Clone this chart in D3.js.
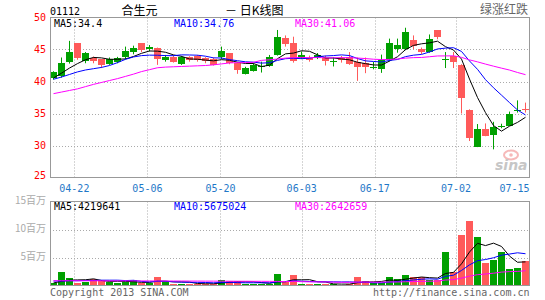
<!DOCTYPE html>
<html><head><meta charset="utf-8">
<script src="https://cdn.jsdelivr.net/npm/d3@7/dist/d3.min.js"></script>
<style>body{margin:0;background:#fff}svg{display:block}</style>
</head><body>
<svg id="c" width="545" height="300"></svg>
<script>
// ---- data ----
const dates = ["04-17","04-18","04-19","04-22","04-23","04-24","04-25","04-26","04-29","04-30",
  "05-02","05-03","05-06","05-07","05-08","05-09","05-10","05-13","05-14","05-15",
  "05-16","05-20","05-21","05-22","05-23","05-24","05-27","05-28","05-29","05-30",
  "05-31","06-03","06-04","06-05","06-06","06-07","06-10","06-11","06-13","06-14",
  "06-17","06-18","06-19","06-20","06-21","06-24","06-25","06-26","06-27","06-28",
  "07-02","07-03","07-04","07-05","07-08","07-09","07-10","07-11","07-12","07-15"];
const tickDates = ["04-22","05-06","05-20","06-03","06-17","07-02","07-15"];
const openP  = [40.5,40.8,43.1,46.0,43.1,43.75,43.5,42.75,43.0,43.75,44.6,46.0,45.05,45.2,43.4,43.9,42.75,43.8,44.0,43.65,
  43.5,43.75,44.4,42.85,41.2,41.65,42.3,42.5,44.15,46.75,46.0,43.75,43.75,43.75,43.75,43.2,43.65,43.9,43.1,42.85,
  42.2,41.9,43.3,45.0,45.05,46.45,45.05,44.65,48.0,43.4,43.95,42.55,35.5,29.8,32.65,31.6,33.0,33.2,35.45,35.65];
const highP  = [41.6,43.75,46.35,46.0,44.6,43.9,43.5,43.75,43.85,45.45,45.6,46.0,45.7,45.3,44.15,44.15,44.0,43.95,44.15,43.8,
  43.75,45.45,44.45,42.9,42.3,42.85,43.1,44.15,48.05,47.2,47.0,44.7,44.05,44.45,44.05,43.75,44.0,44.6,43.75,43.75,
  43.05,44.2,46.7,46.7,48.4,47.2,45.3,47.35,48.0,44.6,44.6,42.7,35.65,33.35,33.45,33.7,33.4,35.3,37.05,36.7];
const lowP   = [40.3,40.6,42.8,43.4,42.85,42.85,42.1,42.6,42.85,43.5,44.25,44.6,44.7,42.6,43.1,42.95,42.6,43.1,43.1,42.85,
  42.5,43.5,42.7,41.2,41.1,41.55,41.4,42.3,44.05,45.45,42.95,43.5,43.1,43.5,42.5,42.35,42.95,42.6,40.1,41.3,
  41.9,41.35,43.15,44.5,44.9,45.05,44.3,44.5,46.6,42.1,42.1,35.0,30.7,29.75,31.45,29.4,32.7,33.1,35.15,35.15];
const closeP = [41.5,42.85,44.6,43.65,44.4,43.3,42.5,43.5,43.65,44.7,45.2,44.95,45.35,43.5,43.85,43.15,43.8,43.3,43.3,43.15,
  42.6,44.7,42.85,41.8,42.1,42.6,42.35,43.9,46.9,45.85,43.2,44.15,43.5,44.15,43.3,43.25,43.4,42.85,42.25,42.2,
  42.25,43.3,45.95,45.65,47.75,45.55,44.55,46.7,46.95,43.45,42.95,37.45,31.1,32.55,31.6,32.9,33.05,35.0,35.5,35.6];
// volume, millions of shares
const volume = [0.4,2.33,1.38,0.36,0.66,1.2,0.9,0.54,0.49,0.54,0.9,0.36,0.49,1.56,0.54,0.31,0.31,0.31,0.31,0.31,
  0.31,1.03,0.83,0.83,0.31,0.31,0.31,0.19,2.13,0.54,1.91,0.31,0.31,0.31,0.31,0.19,0.13,0.31,1.56,0.83,
  0.43,0.49,1.56,1.25,1.91,1.43,1.43,0.96,0.9,6.0,2.45,9.0,11.55,8.65,4.0,4.6,6.05,2.95,3.15,4.35];
// moving-average values before enough in-window history exists
const ma5Head  = [40.55,41.3,42.1,42.8];
const ma10Head = [40.35,40.7,41.1,41.5,41.8,42.0,42.2,42.5,42.95];
const ma30Head = [38.1,38.35,38.6,38.85,39.2,39.55,39.85,40.15,40.45,40.8,41.15,41.55,41.85,42.15,42.25,42.3,
  42.35,42.4,42.45,42.5,42.6,42.75,42.9,42.95,42.95,43.0,43.3,43.4,43.5];
const volMa5Head  = [0.45,0.75,0.95,1.0];
const volMa10Head = [0.8,0.8,0.85,0.85,0.9,0.9,0.95,0.95,0.95];
const volMa30Head = [0.85,0.85,0.85,0.85,0.84,0.84,0.84,0.83,0.83,0.83,0.82,0.82,0.82,0.81,0.81,0.8,0.8,0.79,
  0.79,0.78,0.78,0.77,0.77,0.76,0.76,0.75,0.75,0.74,0.73];
const priceTicks = [25,30,35,40,45,50];
const volTicks = [5,10,15];
const volTickLabels = ["5百万","10百万","15百万"];
const priceLegend = ["MA5:34.4","MA10:34.76","MA30:41.06"];
const volLegend = ["MA5:4219641","MA10:5675024","MA30:2642659"];
const maColors = ["#000000","#0000ff","#ff00ff"];

// ---- drawing ----
const svg = d3.select("#c");
const L = 50, R = 529, PT = 17.5, PB = 177.5, VT = 201.5, VB = 285.5;
const UP = "#00a000", DOWN = "#ff5a5a";
const MONO = "'DejaVu Sans Mono', monospace";
const CJK = "'Noto Sans CJK SC', sans-serif";

const idx = d3.range(dates.length);
const xb = d3.scaleBand().domain(idx).range([L, R]).paddingInner(0.125);
const xp = d3.scalePoint().domain(dates).range([L, R]);
const y = d3.scaleLinear().domain([25, 50]).range([PB, PT]);
const yv = d3.scaleLinear().domain([0, 15]).range([VB, VT]);
const bx = i => Math.round(xb(i));
const cx = i => bx(i) + 3.5;
const isUp = i => closeP[i] >= openP[i];

function movingAvg(vals, n, head) {
  return vals.map((v, i) => i < n - 1 ? head[i] : d3.mean(vals.slice(i - n + 1, i + 1)));
}

// grids
const g = svg.append("g");
const gridX = tickDates.filter(d => xp(d) < R - 2).map(d => Math.round(xp(d)) + 0.5);
[[PT, PB], [VT, VB]].forEach(([t, b]) => {
  g.selectAll(null).data(gridX).join("line")
    .attr("x1", d => d).attr("x2", d => d).attr("y1", t).attr("y2", b)
    .attr("stroke", "#aaa").attr("stroke-dasharray", "1,2");
});
g.selectAll(null).data(priceTicks.filter(t => t > 25 && t < 50)).join("line")
  .attr("x1", L).attr("x2", R).attr("y1", d => Math.round(y(d)) + 0.5).attr("y2", d => Math.round(y(d)) + 0.5)
  .attr("stroke", "#aaa").attr("stroke-dasharray", "1,2");
g.selectAll(null).data(volTicks.filter(t => t < 15)).join("line")
  .attr("x1", L).attr("x2", R).attr("y1", d => Math.round(yv(d)) + 0.5).attr("y2", d => Math.round(yv(d)) + 0.5)
  .attr("stroke", "#aaa").attr("stroke-dasharray", "1,2");

// candles
const cg = svg.append("g");
cg.selectAll("line.w").data(idx).join("line")
  .attr("x1", cx).attr("x2", cx)
  .attr("y1", i => y(highP[i])).attr("y2", i => y(lowP[i]))
  .attr("stroke", i => isUp(i) ? UP : DOWN).attr("stroke-width", 1);
cg.selectAll("rect").data(idx).join("rect")
  .attr("x", bx).attr("width", 7)
  .attr("y", i => Math.round(y(Math.max(openP[i], closeP[i]))))
  .attr("height", i => Math.max(1, Math.round(Math.abs(y(openP[i]) - y(closeP[i])))))
  .attr("fill", i => isUp(i) ? UP : DOWN);

// price MAs
const pMAs = [movingAvg(closeP, 5, ma5Head), movingAvg(closeP, 10, ma10Head), movingAvg(closeP, 30, ma30Head)];
pMAs.forEach((m, k) => {
  svg.append("path").datum(idx)
    .attr("d", d3.line().x(cx).y(i => y(m[i])))
    .attr("fill", "none").attr("stroke", maColors[k]).attr("stroke-width", 1);
});

// volume bars
svg.append("g").selectAll("rect").data(idx).join("rect")
  .attr("x", bx).attr("width", 7)
  .attr("y", i => Math.round(yv(volume[i])))
  .attr("height", i => VB - Math.round(yv(volume[i])))
  .attr("fill", i => isUp(i) ? UP : DOWN);

const vMAs = [movingAvg(volume, 5, volMa5Head), movingAvg(volume, 10, volMa10Head), movingAvg(volume, 30, volMa30Head)];
vMAs.forEach((m, k) => {
  svg.append("path").datum(idx)
    .attr("d", d3.line().x(cx).y(i => yv(m[i])))
    .attr("fill", "none").attr("stroke", maColors[k]).attr("stroke-width", 1);
});

// frames
[[PT, PB], [VT, VB]].forEach(([t, b]) => {
  svg.append("rect").attr("x", L + 0.5).attr("y", t).attr("width", R - L).attr("height", b - t)
    .attr("fill", "none").attr("stroke", "#999");
});

// sina watermark
const wm = svg.append("g").attr("opacity", 0.55);
wm.append("ellipse").attr("cx", 511).attr("cy", 155).attr("rx", 7).attr("ry", 4.5)
  .attr("fill", "none").attr("stroke", "#f08080").attr("stroke-width", 2);
wm.append("circle").attr("cx", 511).attr("cy", 155).attr("r", 1.8).attr("fill", "#f08080");
wm.append("text").attr("x", 495).attr("y", 170).text("sina")
  .attr("font-family", "Verdana, 'DejaVu Sans', sans-serif").attr("font-size", 14)
  .attr("font-style", "italic").attr("font-weight", "bold").attr("fill", "#999");

// axis labels
const t = svg.append("g");
t.selectAll(null).data(priceTicks).join("text")
  .attr("x", 46).attr("y", d => y(d) + 3.5 - (d === 25 ? 2 : 0)).attr("text-anchor", "end")
  .attr("font-family", MONO).attr("font-size", 10).attr("fill", "#ff0000").text(d => d);
t.selectAll(null).data(volTicks).join("text")
  .attr("x", 46).attr("y", d => yv(d) + 2.5).attr("text-anchor", "end")
  .attr("font-family", CJK).attr("font-size", 10).attr("fill", "#aaa")
  .text((d, i) => volTickLabels[i]);
t.selectAll(null).data(tickDates).join("text")
  .attr("x", d => xp(d) >= R - 2 ? R + 0.5 : xp(d))
  .attr("y", 192)
  .attr("text-anchor", d => xp(d) >= R - 2 ? "end" : "middle")
  .attr("font-family", MONO).attr("font-size", 10).attr("fill", "#1f78c8").text(d => d);

// legends
const legX = [54, 174, 295];
t.selectAll(null).data(priceLegend).join("text")
  .attr("x", (d, i) => legX[i]).attr("y", 27).attr("fill", (d, i) => maColors[i])
  .attr("font-family", MONO).attr("font-size", 10).text(d => d);
t.selectAll(null).data(volLegend).join("text")
  .attr("x", (d, i) => legX[i]).attr("y", 210).attr("fill", (d, i) => maColors[i])
  .attr("font-family", MONO).attr("font-size", 10).text(d => d);

// titles
t.append("text").attr("x", 50).attr("y", 15).attr("font-family", MONO).attr("font-size", 10).attr("fill", "#000").text("01112");
t.append("text").attr("x", 139.5).attr("y", 15).attr("text-anchor", "middle").attr("font-family", CJK).attr("font-size", 12).attr("fill", "#000").text("合生元");
t.append("text").attr("x", 225).attr("y", 15).attr("font-family", CJK).attr("font-size", 12).attr("fill", "#000").text("－ 日K线图");
t.append("text").attr("x", 528).attr("y", 14).attr("text-anchor", "end").attr("font-family", CJK).attr("font-size", 12).attr("fill", "#666").text("绿涨红跌");
t.append("text").attr("x", 50).attr("y", 296).attr("font-family", MONO).attr("font-size", 10).attr("fill", "#666").text("Copyright 2013 SINA.COM");
t.append("text").attr("x", 529.5).attr("y", 296).attr("text-anchor", "end").attr("font-family", MONO).attr("font-size", 10).attr("fill", "#666").text("http://finance.sina.com.cn");
</script>
</body></html>
